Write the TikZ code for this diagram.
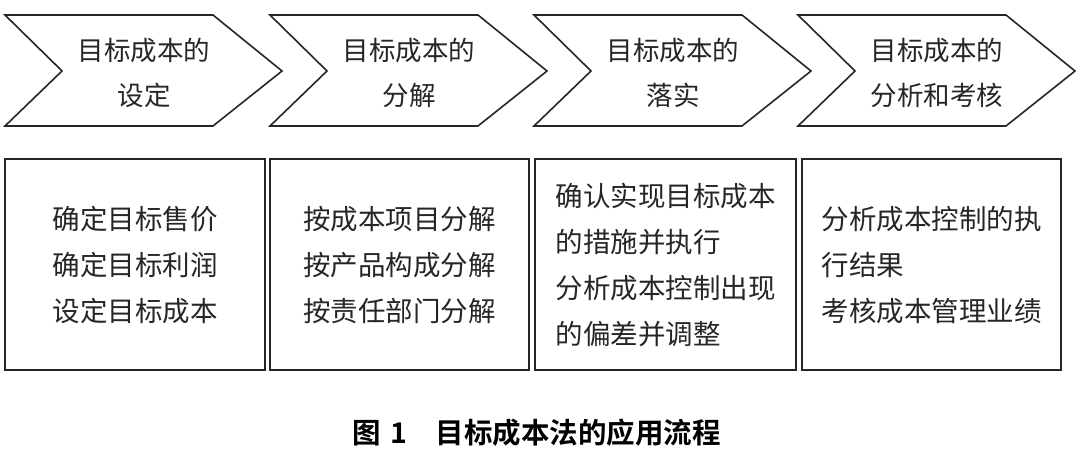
\documentclass[tikz,border=0pt]{standalone}
\usepackage{fontspec}
\setmainfont{Noto Sans CJK SC}
\newfontfamily\capfont{Noto Sans CJK SC Bold}
\begin{document}
\begin{tikzpicture}[x=1pt,y=-1pt,
  chev/.style={draw=black!85,line width=1.6pt,line join=miter},
  stagebox/.style={draw=black!85,line width=1.6pt},
  chevtext/.style={align=center,font={\fontsize{26.5pt}{45pt}\selectfont},text=black!85,inner sep=0pt},
  boxtext/.style={align=left,font={\fontsize{27.5pt}{46pt}\selectfont},text=black!85,inner sep=0pt},
  captext/.style={font={\capfont\fontsize{28.5pt}{30pt}\selectfont},text=black,inner sep=0pt}
]
\useasboundingbox[fill=white] (0,0) rectangle (1080,457);
% chevrons
\foreach \x/\n in {5/c1,270/c2,534/c3,798/c4}{
  \draw[chev] (\x,15) -- (\x+208,15) -- (\x+277,71) -- (\x+208,126) -- (\x,126) -- (\x+57,71) -- cycle;
}
\node[chevtext] (t1) at (144,72.5) {目标成本的\\设定};
\node[chevtext] (t2) at (409,72.5) {目标成本的\\分解};
\node[chevtext] (t3) at (673,72.5) {目标成本的\\落实};
\node[chevtext] (t4) at (937,72.5) {目标成本的\\分析和考核};
% boxes
\draw[stagebox] (5,159) rectangle (265,370);
\draw[stagebox] (270,159) rectangle (529,370);
\draw[stagebox] (535,159) rectangle (796,370);
\draw[stagebox] (802,159) rectangle (1061,370);
\node[boxtext] (b1) at (135,265.5) {确定目标售价\\确定目标利润\\设定目标成本};
\node[boxtext] (b2) at (399.5,265.5) {按成本项目分解\\按产品构成分解\\按责任部门分解};
\node[boxtext] (b3) at (665.5,265) {确认实现目标成本\\的措施并执行\\分析成本控制出现\\的偏差并调整};
\node[boxtext] (b4) at (931.5,265.5) {分析成本控制的执\\行结果\\考核成本管理业绩};
% caption
\node[captext,anchor=west] (cap) at (352,433) {图\hspace{0.35em}1\hspace{1.0em}目标成本法的应用流程};
\end{tikzpicture}
\end{document}
